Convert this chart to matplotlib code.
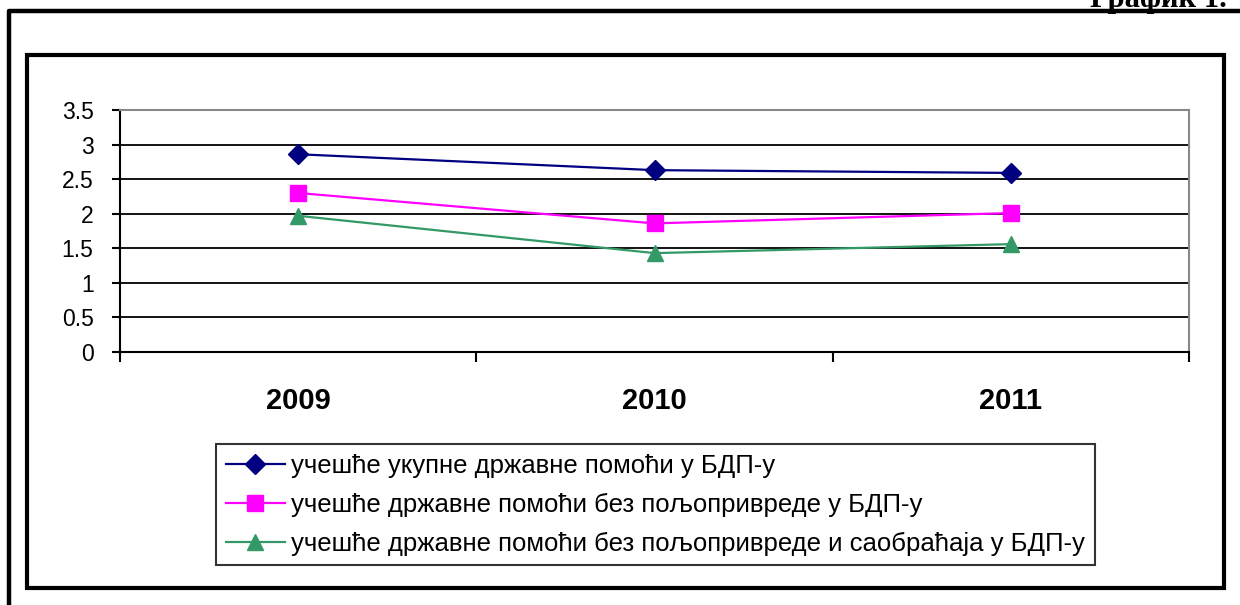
import matplotlib.pyplot as plt
from matplotlib.lines import Line2D
from matplotlib.patches import Rectangle

years = ['2009', '2010', '2011']
ukupna = [2.86, 2.63, 2.59]
bez_polj = [2.30, 1.86, 2.01]
bez_polj_saob = [1.97, 1.43, 1.56]

labels = [
    'учешће укупне државне помоћи у БДП-у',
    'учешће државне помоћи без пољопривреде у БДП-у',
    'учешће државне помоћи без пољопривреде и саобраћаја у БДП-у',
]
y_ticks = [0, 0.5, 1, 1.5, 2, 2.5, 3, 3.5]
y_tick_labels = ['0', '0.5', '1', '1.5', '2', '2.5', '3', '3.5']

W, H = 1240, 605
plt.rcParams['font.family'] = ['Liberation Sans', 'DejaVu Sans']

fig = plt.figure(figsize=(W / 100, H / 100), dpi=100)

# outer frame (right and bottom edges fall outside the picture)
fig.add_artist(Line2D([9 / W, 9 / W, 1260 / W], [-0.1, 1 - 11 / H, 1 - 11 / H],
                      color='black', lw=3.2, transform=fig.transFigure))
# inner chart frame
fig.add_artist(Rectangle((27 / W, 1 - 588 / H), (1224 - 27) / W, (588 - 55) / H,
                         fill=False, ec='black', lw=3.0, transform=fig.transFigure))

fig.text(1090 / W, 1 - 7 / H, 'График 1.', family='Liberation Serif',
         fontweight='bold', fontsize=22, ha='left', va='baseline')

ax = fig.add_axes([120 / W, 1 - 352 / H, (1189 - 120) / W, (352 - 110) / H])
x = list(range(len(years)))
ax.plot(x, ukupna, color='#000080', lw=1.6, marker='D', markersize=10, label=labels[0])
ax.plot(x, bez_polj, color='#FF00FF', lw=1.6, marker='s', markersize=11, label=labels[1])
ax.plot(x, bez_polj_saob, color='#339966', lw=1.6, marker='^', markersize=12, label=labels[2])

ax.set_xlim(-0.5, 2.5)
ax.set_ylim(0, 3.5)
ax.set_yticks(y_ticks)
ax.set_yticklabels(y_tick_labels, fontsize=16.5)
ax.yaxis.grid(True, color='black', lw=1.3)
ax.set_axisbelow(True)

ax.set_xticks(x)
ax.set_xticklabels(years, fontsize=21, fontweight='bold')
ax.set_xticks([-0.5, 0.5, 1.5, 2.5], minor=True)
ax.tick_params(axis='x', which='major', length=0, pad=25)
ax.tick_params(axis='x', which='minor', length=7, width=1.5, direction='out')
ax.tick_params(axis='y', length=6, width=1.5, pad=13, direction='out')

for side in ['top', 'right']:
    ax.spines[side].set_color('#888888')
    ax.spines[side].set_linewidth(1.5)
for side in ['left', 'bottom']:
    ax.spines[side].set_color('black')
    ax.spines[side].set_linewidth(1.5)

leg = ax.legend(loc='upper left', bbox_to_anchor=(216 / W, 1 - 444 / H),
                bbox_transform=fig.transFigure, fontsize=18.5, frameon=True,
                fancybox=False, edgecolor='black', handlelength=2.3,
                handletextpad=0.25, labelspacing=0.58, borderpad=0.38,
                borderaxespad=0)
leg.get_frame().set_linewidth(1.5)

fig.savefig('out.png', dpi=100)
